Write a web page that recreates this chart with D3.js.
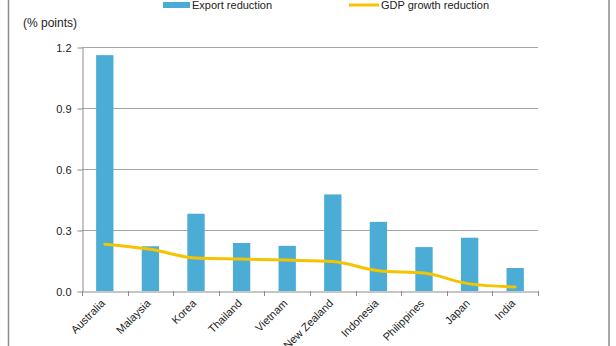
<!DOCTYPE html>
<html><head><meta charset="utf-8">
<script src="https://cdn.jsdelivr.net/npm/d3@7"></script>
<style>body{margin:0;background:#fff}svg{display:block;font-family:"Liberation Sans",Arial,sans-serif}</style>
</head><body>
<script>
const categories = ["Australia","Malaysia","Korea","Thailand","Vietnam","New Zealand","Indonesia","Philippines","Japan","India"];
const exportReduction = [1.16,0.22,0.38,0.236,0.222,0.475,0.34,0.216,0.262,0.113];
const gdpReduction = [0.23,0.205,0.162,0.157,0.152,0.145,0.10,0.088,0.035,0.02];
const yTicks = [0,0.3,0.6,0.9,1.2];
const seriesNames = ["Export reduction","GDP growth reduction"];

const W=616,H=346;
const svg=d3.select("body").append("svg").attr("width",W).attr("height",H);
svg.append("rect").attr("x",8.5).attr("y",-5).attr("width",600.5).attr("height",H+10)
  .attr("fill","none").attr("stroke","#8c8c8c").attr("stroke-width",1.5);

const L=82,R=538,T=47,B=291;
const x=d3.scaleBand().domain(categories).range([L,R]);
const y=d3.scaleLinear().domain([0,1.2]).range([B,T]);

// grid
svg.append("g").selectAll("line").data(yTicks.filter(d=>d>0)).join("line")
  .attr("x1",L).attr("x2",R).attr("y1",d=>Math.round(y(d))+0.5).attr("y2",d=>Math.round(y(d))+0.5)
  .attr("stroke","#a6a6a6").attr("stroke-width",1);

// y axis
const ya=svg.append("g").attr("transform",`translate(${L+0.5},0.5)`)
  .call(d3.axisLeft(y).tickValues(yTicks).tickFormat(d3.format(".1f")).tickSize(5).tickSizeOuter(0).tickPadding(6));
ya.select(".domain").attr("stroke","#8c8c8c");
ya.selectAll(".tick line").attr("stroke","#8c8c8c");
ya.selectAll("text").attr("font-size",11).attr("fill","#222").attr("font-family","Liberation Sans, Arial, sans-serif");

// bars
const bw=x.bandwidth()*0.38;
svg.append("g").selectAll("rect").data(categories).join("rect")
  .attr("x",(d)=>x(d)+x.bandwidth()/2-bw/2).attr("width",bw)
  .attr("y",(d,i)=>y(exportReduction[i])).attr("height",(d,i)=>B-y(exportReduction[i]))
  .attr("fill","#4bacd6");

// x axis
const xa=svg.append("g").attr("transform",`translate(0.5,${B+0.5})`)
  .call(d3.axisBottom(x).tickSize(5).tickSizeOuter(0).tickFormat(""));
xa.select(".domain").attr("stroke","#8c8c8c");
xa.selectAll(".tick").remove();
const edges=d3.range(categories.length+1).map(i=>L+i*x.bandwidth());
svg.append("g").selectAll("line").data(edges).join("line")
  .attr("x1",d=>Math.round(d)+0.5).attr("x2",d=>Math.round(d)+0.5).attr("y1",B).attr("y2",B+5)
  .attr("stroke","#8c8c8c");
svg.append("g").selectAll("text").data(categories).join("text")
  .attr("transform",d=>`translate(${x(d)+x.bandwidth()/2+1},${B+13}) rotate(-45)`)
  .attr("text-anchor","end").attr("font-size",11).attr("fill","#222").text(d=>d);

// line
const line=d3.line().x((d,i)=>x(categories[i])+x.bandwidth()/2).y(d=>y(d)).curve(d3.curveMonotoneX);
svg.append("path").datum(gdpReduction).attr("d",line).attr("fill","none")
  .attr("stroke","#f5c400").attr("stroke-width",3).attr("stroke-linejoin","round").attr("stroke-linecap","round");

// y label
svg.append("text").attr("x",23).attr("y",27).attr("font-size",12).attr("fill","#222").text("(% points)");

// legend
svg.append("rect").attr("x",163).attr("y",2).attr("width",27).attr("height",6).attr("fill","#4bacd6");
svg.append("text").attr("x",192).attr("y",9).attr("font-size",11).attr("fill","#222").text(seriesNames[0]);
svg.append("line").attr("x1",349).attr("x2",379).attr("y1",5).attr("y2",5).attr("stroke","#f5c400").attr("stroke-width",3);
svg.append("text").attr("x",381).attr("y",9).attr("font-size",11).attr("fill","#222").text(seriesNames[1]);
</script>
</body></html>
